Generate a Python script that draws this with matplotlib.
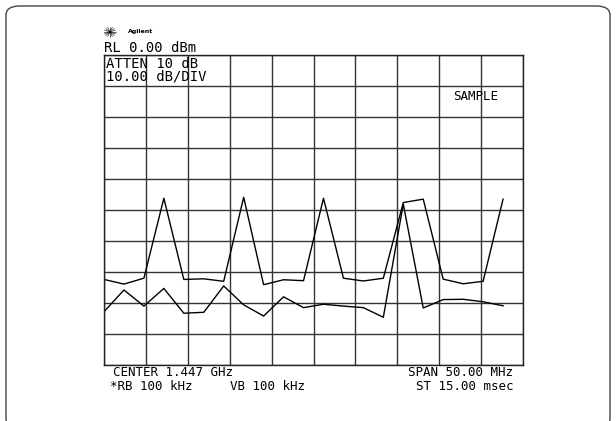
import matplotlib.pyplot as plt
import numpy as np
from matplotlib.patches import FancyBboxPatch
from matplotlib.lines import Line2D

# spectrum analyzer screen: 0 dBm reference, 10 dB/div, 21 sweep points
ref_level = 0.0
db_per_div = 10.0
n_div = 10

trace_a = [-72.4, -73.9, -72.0, -46.2, -72.4, -72.2, -73.0, -45.9, -74.1, -72.5,
           -72.8, -46.2, -72.0, -72.9, -72.0, -47.6, -46.5, -72.3, -73.8, -73.0, -46.5]
trace_b = [-82.8, -75.8, -81.0, -75.3, -83.3, -83.0, -74.5, -80.6, -84.2, -78.0,
           -81.5, -80.4, -81.0, -81.5, -84.6, -48.1, -81.6, -78.9, -78.8, -79.6, -80.9]

center_mhz = 1447.0
span_mhz = 50.0
n_slots = 21

W, H = 616, 421
fig = plt.figure(figsize=(W / 100, H / 100), dpi=100)

def fx(px):
    return px / W

def fy(py):
    return 1 - py / H

# rounded outer frame
frame = FancyBboxPatch((fx(6), fy(428)), fx(604), (428 - 6) / H,
                       boxstyle="round,pad=0,rounding_size=0.022",
                       transform=fig.transFigure, fill=False,
                       edgecolor="#444444", linewidth=1.0)
fig.add_artist(frame)

left, right, top, bottom = 104, 523, 55, 365
ax = fig.add_axes([fx(left), fy(bottom), fx(right - left), (bottom - top) / H])

f0 = center_mhz - span_mhz / 2
step = span_mhz / n_slots
freq = f0 + np.arange(len(trace_a)) * step

ax.plot(freq, trace_a, color="black", linewidth=1.0)
ax.plot(freq, trace_b, color="black", linewidth=1.0)

ax.set_xlim(f0, f0 + span_mhz)
ax.set_ylim(ref_level - n_div * db_per_div, ref_level)
ax.set_xticks(np.linspace(f0, f0 + span_mhz, n_div + 1))
ax.set_yticks(np.arange(ref_level - n_div * db_per_div, ref_level + 1, db_per_div))
ax.grid(True, color="#333333", linewidth=1.0)
ax.tick_params(length=0, labelbottom=False, labelleft=False)
for s in ax.spines.values():
    s.set_color("#222222")
    s.set_linewidth(1.0)

mono = dict(family="DejaVu Sans Mono", color="black", va="center")

# Agilent spark logo
cx, cy = 110, 32
for ang in np.linspace(0, np.pi, 8, endpoint=False):
    dx, dy = 6 * np.cos(ang), 5 * np.sin(ang)
    fig.add_artist(Line2D([fx(cx - dx), fx(cx + dx)], [fy(cy - dy), fy(cy + dy)],
                          transform=fig.transFigure, color="black", linewidth=0.4))
fig.text(fx(128), fy(32), "Agilent", fontsize=4.5, fontweight="bold", va="center")

fig.text(fx(104), fy(48), "RL 0.00 dBm", fontsize=10, **mono)
fig.text(fx(106), fy(64), "ATTEN 10 dB", fontsize=10, **mono)
fig.text(fx(106), fy(77), "10.00 dB/DIV", fontsize=10, **mono)
fig.text(fx(453), fy(96), "SAMPLE", fontsize=9, **mono)

fig.text(fx(113), fy(373), "CENTER 1.447 GHz", fontsize=9, **mono)
fig.text(fx(110), fy(387), "*RB 100 kHz", fontsize=9, **mono)
fig.text(fx(230), fy(387), "VB 100 kHz", fontsize=9, **mono)
fig.text(fx(513), fy(373), "SPAN 50.00 MHz", fontsize=9, ha="right", **mono)
fig.text(fx(513), fy(387), "ST 15.00 msec", fontsize=9, ha="right", **mono)

fig.savefig("out.png", dpi=100)
